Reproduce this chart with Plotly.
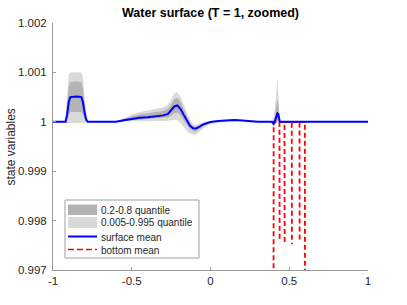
import plotly.graph_objects as go

# ---------------- data ----------------
x = [-1.0, -0.93, -0.92, -0.91, -0.90, -0.89, -0.85, -0.82, -0.81, -0.80, -0.79, -0.78,
     -0.77, -0.70, -0.60, -0.55, -0.50, -0.45, -0.40, -0.35, -0.30, -0.27, -0.25, -0.23,
     -0.21, -0.19, -0.17, -0.15, -0.13, -0.11, -0.10, -0.09, -0.07, -0.05, -0.02, 0.0,
     0.05, 0.10, 0.15, 0.20, 0.25, 0.30, 0.35, 0.39, 0.40, 0.41, 0.42, 0.425, 0.43,
     0.435, 0.44, 0.45, 0.50, 1.0]

surface_mean = [1.0, 1.0, 1.0, 1.00015, 1.0004, 1.0005, 1.00051, 1.0005, 1.0004, 1.0002,
                1.00005, 1.0, 1.0, 1.0, 1.0, 1.00003, 1.00006, 1.00008, 1.00009, 1.000105,
                1.00013, 1.00016, 1.00023, 1.00031, 1.00033, 1.00026, 1.00014, 1.00002,
                0.99992, 0.99987, 0.99986, 0.999865, 0.9999, 0.99994, 0.999975, 0.999995,
                1.000015, 1.00003, 1.000035, 1.000025, 1.00001, 1.000002, 1.0, 1.0,
                0.99996, 1.00002, 1.00012, 1.00017, 1.00016, 1.00004, 1.0, 1.0, 1.0, 1.0]

q80 = [1.0, 1.0, 1.00003, 1.0003, 1.0007, 1.0008, 1.00082, 1.0008, 1.00065, 1.00035,
       1.0001, 1.0, 1.0, 1.0, 1.0, 1.00005, 1.00011, 1.00015, 1.00017, 1.00019,
       1.00022, 1.00027, 1.00035, 1.00046, 1.00048, 1.0004, 1.00026, 1.0001,
       0.99997, 0.99991, 0.9999, 0.9999, 0.99993, 0.999965, 0.99999, 1.000005,
       1.000025, 1.00004, 1.000045, 1.000035, 1.000015, 1.000005, 1.0, 1.0,
       1.00003, 1.00015, 1.00035, 1.00045, 1.00035, 1.0001, 1.0, 1.0, 1.0, 1.0]

q20 = [1.0, 1.0, 1.0, 1.00005, 1.00015, 1.0002, 1.0002, 1.0002, 1.00015, 1.00005,
       1.0, 1.0, 1.0, 1.0, 1.0, 1.00001, 1.00003, 1.00004, 1.00005, 1.00006,
       1.00007, 1.00009, 1.00013, 1.00018, 1.00019, 1.00013, 1.00003, 0.99994,
       0.99986, 0.99981, 0.9998, 0.99981, 0.99986, 0.99991, 0.99996, 0.999985,
       1.000005, 1.00002, 1.000025, 1.000015, 1.000005, 1.0, 1.0, 1.0,
       0.99992, 0.99997, 1.0, 1.00003, 1.00003, 1.0, 1.0, 1.0, 1.0, 1.0]

q995 = [1.0, 1.0, 1.00015, 1.0006, 1.00095, 1.001, 1.001, 1.001, 1.0009, 1.0006,
        1.0002, 1.00005, 1.0, 1.0, 1.00001, 1.00007, 1.00015, 1.0002, 1.00023, 1.00026,
        1.00029, 1.00035, 1.00045, 1.00058, 1.0006, 1.0005, 1.00035, 1.00018,
        1.00004, 0.99996, 0.99994, 0.99994, 0.99996, 0.99999, 1.00001, 1.00002,
        1.000035, 1.00005, 1.000055, 1.000045, 1.000025, 1.000008, 1.0, 1.0,
        1.00008, 1.0003, 1.0007, 1.0009, 1.0006, 1.0002, 1.0, 1.0, 1.0, 1.0]

q005 = [1.0, 1.0, 0.99998, 0.99997, 0.99997, 0.99997, 0.99997, 0.99997, 0.99997, 0.99998,
        0.99998, 1.0, 1.0, 1.0, 1.0, 1.0, 1.0, 1.000005, 1.00001, 1.00001,
        1.000015, 1.00002, 1.00003, 1.00004, 1.00003, 0.99997, 0.9999, 0.99982,
        0.99976, 0.99974, 0.99974, 0.99975, 0.9998, 0.99986, 0.99993, 0.99996,
        0.99999, 1.000005, 1.00001, 1.000005, 1.0, 1.0, 1.0, 1.0,
        0.99988, 0.99994, 0.99998, 1.0, 1.0, 1.0, 1.0, 1.0, 1.0, 1.0]

# bottom mean: deep outside [0.4, 0.6], narrow dips inside (None = break in the line)
x_bottom = [-1.0, 0.399, 0.401, 0.438, 0.439, None, 0.440, 0.470, 0.471, None,
            0.472, 0.516, 0.517, None, 0.518, 0.565, 0.566, None, 0.567, 0.599, 0.601, 1.0]
bottom_mean = [0.99, 0.99, 1.0, 1.0, 0.99757, None, 1.0, 1.0, 0.99755, None,
               1.0, 1.0, 0.99752, None, 1.0, 1.0, 0.99756, None, 1.0, 1.0, 0.99, 0.99]

x_ticks = [-1, -0.5, 0, 0.5, 1]
x_ticklabels = ["-1", "-0.5", "0", "0.5", "1"]
y_ticks = [0.997, 0.998, 0.999, 1.0, 1.001, 1.002]
y_ticklabels = ["0.997", "0.998", "0.999", "1", "1.001", "1.002"]

legend_labels = ["0.2-0.8 quantile", "0.005-0.995 quantile", "surface mean", "bottom mean"]

# ---------------- styles ----------------
FONT = "Liberation Sans, Arial, Helvetica, sans-serif"
DARK = "#b3b3b3"
LIGHT = "#d9d9d9"
BLUE = "#0000ff"
RED = "#ff0000"
AXIS = "#9a9a9a"
TXT = "#262626"

fig = go.Figure()
fig.add_trace(go.Scatter(x=x, y=q005, mode="lines", line=dict(width=0), showlegend=False,
                         hoverinfo="skip"))
fig.add_trace(go.Scatter(x=x, y=q995, mode="lines", line=dict(width=0), fill="tonexty",
                         fillcolor=LIGHT, showlegend=False, hoverinfo="skip"))
fig.add_trace(go.Scatter(x=x, y=q20, mode="lines", line=dict(width=0), showlegend=False,
                         hoverinfo="skip"))
fig.add_trace(go.Scatter(x=x, y=q80, mode="lines", line=dict(width=0), fill="tonexty",
                         fillcolor=DARK, showlegend=False, hoverinfo="skip"))
fig.add_trace(go.Scatter(x=x_bottom, y=bottom_mean, mode="lines", connectgaps=False,
                         line=dict(color=RED, width=1.8, dash="5px,3px"), showlegend=False))
fig.add_trace(go.Scatter(x=x, y=surface_mean, mode="lines",
                         line=dict(color=BLUE, width=2), showlegend=False))

# ---------------- manual legend (MATLAB-like compact box) ----------------
L, R, T, B = 53, 368, 23, 270  # plot area in pixels
W, H = R - L, B - T


def px(v):
    return (v - L) / W


def py(v):
    return (B - v) / H


shapes = [
    dict(type="rect", xref="paper", yref="paper", x0=px(65), x1=px(199), y0=py(258), y1=py(200),
         line=dict(color="#a0a0a0", width=1), fillcolor="white", layer="above"),
    dict(type="rect", xref="paper", yref="paper", x0=px(68), x1=px(97), y0=py(215), y1=py(204.5),
         line=dict(width=0), fillcolor=DARK, layer="above"),
    dict(type="rect", xref="paper", yref="paper", x0=px(68), x1=px(97), y0=py(228), y1=py(217),
         line=dict(width=0), fillcolor=LIGHT, layer="above"),
    dict(type="line", xref="paper", yref="paper", x0=px(68), x1=px(97), y0=py(236.5), y1=py(236.5),
         line=dict(color=BLUE, width=2), layer="above"),
    dict(type="line", xref="paper", yref="paper", x0=px(68), x1=px(97), y0=py(249.5), y1=py(249.5),
         line=dict(color=RED, width=1.6, dash="6px,3px"), layer="above"),
]
annotations = []
for lbl, yc in zip(legend_labels, [210, 222.5, 237, 250]):
    annotations.append(dict(text=lbl, xref="paper", yref="paper", x=px(99), y=py(yc),
                            xanchor="left", yanchor="middle", showarrow=False,
                            font=dict(family=FONT, size=10, color=TXT)))
annotations.append(dict(text="state variables", xref="paper", yref="paper", x=px(10.5), y=py(147),
                        xanchor="center", yanchor="middle", textangle=-90, showarrow=False,
                        font=dict(family=FONT, size=12, color=TXT)))

fig.update_layout(
    width=407, height=305,
    margin=dict(l=L, r=407 - R, t=T, b=305 - B, autoexpand=False),
    paper_bgcolor="white", plot_bgcolor="white",
    showlegend=False,
    title=dict(text="<b>Water surface (T = 1, zoomed)</b>", x=0.5, xref="paper",
               y=1 - 13 / 305, yref="container", xanchor="center", yanchor="middle",
               font=dict(family=FONT, size=12.5, color="black")),
    shapes=shapes, annotations=annotations,
    font=dict(family=FONT, size=11, color=TXT),
)
fig.update_xaxes(range=[-1, 1], tickvals=x_ticks, ticktext=x_ticklabels,
                 showgrid=False, zeroline=False, showline=True, linecolor=AXIS, linewidth=1,
                 ticks="inside", ticklen=3, tickcolor=AXIS, tickfont=dict(size=11.5, color=TXT))
fig.update_yaxes(range=[0.997, 1.002], tickvals=y_ticks, ticktext=y_ticklabels,
                 showgrid=False, zeroline=False, showline=True, linecolor=AXIS, linewidth=1,
                 ticks="inside", ticklen=3, tickcolor=AXIS, tickfont=dict(size=11.5, color=TXT),
                 ticklabelstandoff=3)

fig.write_html("out.html", config={"displayModeBar": False},
               post_script="document.body.style.margin='0px';")
